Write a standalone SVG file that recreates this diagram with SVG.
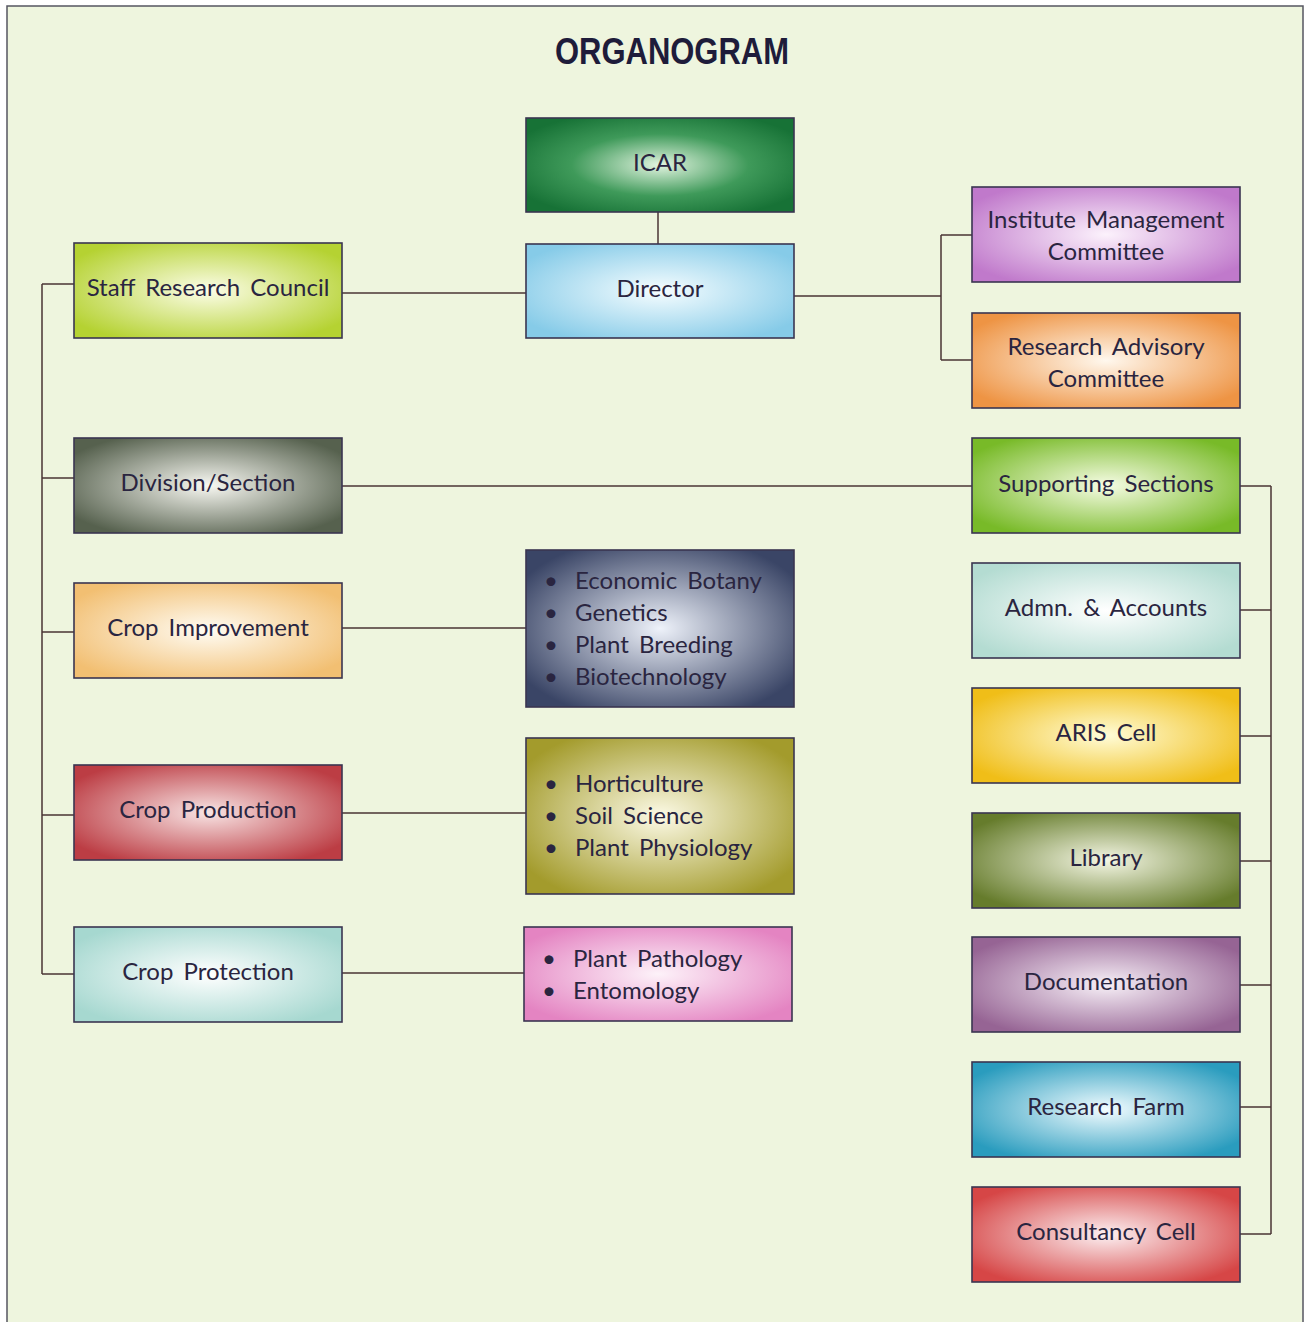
<svg xmlns="http://www.w3.org/2000/svg" width="1309" height="1322" viewBox="0 0 1309 1322">
<defs>
<style>
.box{stroke:#3a3550;stroke-width:1.6}
.t{font-family:"Lato","Liberation Sans",sans-serif;font-size:24px;fill:#2a2540;text-anchor:middle;word-spacing:4px}
.l{font-family:"Lato","Liberation Sans",sans-serif;font-size:24px;fill:#2a2540;word-spacing:4px}
.c{stroke:#4a3434;stroke-width:1.5;fill:none}
</style>
<radialGradient id="gICAR" cx="0.5" cy="0.5" r="0.6"><stop offset="0" stop-color="#e2f4e0"/><stop offset="0.55" stop-color="#3f9a5a"/><stop offset="1" stop-color="#177236"/></radialGradient>
<radialGradient id="gDir" cx="0.5" cy="0.5" r="0.6"><stop offset="0" stop-color="#f6fdff"/><stop offset="1" stop-color="#86cbe8"/></radialGradient>
<radialGradient id="gSRC" cx="0.5" cy="0.5" r="0.6"><stop offset="0" stop-color="#fcfde8"/><stop offset="1" stop-color="#b5d232"/></radialGradient>
<radialGradient id="gDiv" cx="0.5" cy="0.5" r="0.6"><stop offset="0" stop-color="#f8f8f2"/><stop offset="1" stop-color="#56614e"/></radialGradient>
<radialGradient id="gCI" cx="0.5" cy="0.5" r="0.6"><stop offset="0" stop-color="#fffcf4"/><stop offset="1" stop-color="#f2bf72"/></radialGradient>
<radialGradient id="gCP" cx="0.5" cy="0.5" r="0.6"><stop offset="0" stop-color="#f8e4e4"/><stop offset="1" stop-color="#bc3d44"/></radialGradient>
<radialGradient id="gCPr" cx="0.5" cy="0.5" r="0.6"><stop offset="0" stop-color="#ffffff"/><stop offset="1" stop-color="#a6d8d0"/></radialGradient>
<radialGradient id="gEB" cx="0.5" cy="0.5" r="0.6"><stop offset="0" stop-color="#eef2fa"/><stop offset="1" stop-color="#3a4566"/></radialGradient>
<radialGradient id="gHo" cx="0.5" cy="0.5" r="0.6"><stop offset="0" stop-color="#fcfae6"/><stop offset="1" stop-color="#a39b2c"/></radialGradient>
<radialGradient id="gPP" cx="0.5" cy="0.5" r="0.6"><stop offset="0" stop-color="#fdf2f9"/><stop offset="1" stop-color="#e484c2"/></radialGradient>
<radialGradient id="gIMC" cx="0.5" cy="0.5" r="0.6"><stop offset="0" stop-color="#fcf2fc"/><stop offset="1" stop-color="#c079cb"/></radialGradient>
<radialGradient id="gRAC" cx="0.5" cy="0.5" r="0.6"><stop offset="0" stop-color="#fff8ee"/><stop offset="1" stop-color="#ee9444"/></radialGradient>
<radialGradient id="gSS" cx="0.5" cy="0.5" r="0.6"><stop offset="0" stop-color="#f6fce4"/><stop offset="1" stop-color="#78ba28"/></radialGradient>
<radialGradient id="gAA" cx="0.5" cy="0.5" r="0.6"><stop offset="0" stop-color="#ffffff"/><stop offset="1" stop-color="#b4dcd2"/></radialGradient>
<radialGradient id="gAR" cx="0.5" cy="0.5" r="0.6"><stop offset="0" stop-color="#fffcd8"/><stop offset="1" stop-color="#f0be18"/></radialGradient>
<radialGradient id="gLib" cx="0.5" cy="0.5" r="0.6"><stop offset="0" stop-color="#f4f6e4"/><stop offset="1" stop-color="#667c2c"/></radialGradient>
<radialGradient id="gDoc" cx="0.5" cy="0.5" r="0.6"><stop offset="0" stop-color="#f7f0f7"/><stop offset="1" stop-color="#966494"/></radialGradient>
<radialGradient id="gRF" cx="0.5" cy="0.5" r="0.6"><stop offset="0" stop-color="#f2fcff"/><stop offset="1" stop-color="#2a9cbe"/></radialGradient>
<radialGradient id="gCC" cx="0.5" cy="0.5" r="0.6"><stop offset="0" stop-color="#fcf0f2"/><stop offset="1" stop-color="#d64646"/></radialGradient>
</defs>
<rect x="0" y="0" width="1309" height="1322" fill="#ffffff"/>
<rect x="7" y="6" width="1296" height="1330" fill="#eef5de" stroke="#555560" stroke-width="1.5"/>
<text x="672" y="64" font-family="'Liberation Sans',sans-serif" font-weight="bold" font-size="36" fill="#1e1c3a" text-anchor="middle" textLength="234" lengthAdjust="spacingAndGlyphs">ORGANOGRAM</text>

<g id="connectors">
<path class="c" d="M658 212V244"/>
<path class="c" d="M342 293H526"/>
<path class="c" d="M794 296H941M941 235V360M941 235H972M941 360H972"/>
<path class="c" d="M42 284V974M42 284H74M42 478H74M42 632H74M42 815H74M42 974H74"/>
<path class="c" d="M342 486H972"/>
<path class="c" d="M342 628H526M342 813H526M342 973H524"/>
<path class="c" d="M1271 486V1234M1240 486H1271M1240 610H1271M1240 736H1271M1240 861H1271M1240 985H1271M1240 1107H1271M1240 1234H1271"/>
</g>

<g id="icar"><rect class="box" x="526" y="118" width="268" height="94" fill="url(#gICAR)"/><text class="t" x="660" y="171">ICAR</text></g>
<g id="director"><rect class="box" x="526" y="244" width="268" height="94" fill="url(#gDir)"/><text class="t" x="660" y="297">Director</text></g>
<g id="staff-research-council"><rect class="box" x="74" y="243" width="268" height="95" fill="url(#gSRC)"/><text class="t" x="208" y="296">Staff Research Council</text></g>
<g id="division-section"><rect class="box" x="74" y="438" width="268" height="95" fill="url(#gDiv)"/><text class="t" x="208" y="491">Division/Section</text></g>
<g id="crop-improvement"><rect class="box" x="74" y="583" width="268" height="95" fill="url(#gCI)"/><text class="t" x="208" y="636">Crop Improvement</text></g>
<g id="crop-production"><rect class="box" x="74" y="765" width="268" height="95" fill="url(#gCP)"/><text class="t" x="208" y="818">Crop Production</text></g>
<g id="crop-protection"><rect class="box" x="74" y="927" width="268" height="95" fill="url(#gCPr)"/><text class="t" x="208" y="980">Crop Protection</text></g>

<g id="crop-improvement-list"><rect class="box" x="526" y="550" width="268" height="157" fill="url(#gEB)"/>
<text class="l" x="544" y="589">•</text><text class="l" x="575" y="589">Economic Botany</text>
<text class="l" x="544" y="621">•</text><text class="l" x="575" y="621">Genetics</text>
<text class="l" x="544" y="653">•</text><text class="l" x="575" y="653">Plant Breeding</text>
<text class="l" x="544" y="685">•</text><text class="l" x="575" y="685">Biotechnology</text></g>
<g id="crop-production-list"><rect class="box" x="526" y="738" width="268" height="156" fill="url(#gHo)"/>
<text class="l" x="544" y="792">•</text><text class="l" x="575" y="792">Horticulture</text>
<text class="l" x="544" y="824">•</text><text class="l" x="575" y="824">Soil Science</text>
<text class="l" x="544" y="856">•</text><text class="l" x="575" y="856">Plant Physiology</text></g>
<g id="crop-protection-list"><rect class="box" x="524" y="927" width="268" height="94" fill="url(#gPP)"/>
<text class="l" x="542" y="967">•</text><text class="l" x="573" y="967">Plant Pathology</text>
<text class="l" x="542" y="999">•</text><text class="l" x="573" y="999">Entomology</text></g>

<g id="imc"><rect class="box" x="972" y="187" width="268" height="95" fill="url(#gIMC)"/><text class="t" x="1106" y="228">Institute Management</text><text class="t" x="1106" y="260">Committee</text></g>
<g id="rac"><rect class="box" x="972" y="313" width="268" height="95" fill="url(#gRAC)"/><text class="t" x="1106" y="355">Research Advisory</text><text class="t" x="1106" y="387">Committee</text></g>
<g id="supporting-sections"><rect class="box" x="972" y="438" width="268" height="95" fill="url(#gSS)"/><text class="t" x="1106" y="492">Supporting Sections</text></g>
<g id="admn-accounts"><rect class="box" x="972" y="563" width="268" height="95" fill="url(#gAA)"/><text class="t" x="1106" y="616">Admn. &amp; Accounts</text></g>
<g id="aris-cell"><rect class="box" x="972" y="688" width="268" height="95" fill="url(#gAR)"/><text class="t" x="1106" y="741">ARIS Cell</text></g>
<g id="library"><rect class="box" x="972" y="813" width="268" height="95" fill="url(#gLib)"/><text class="t" x="1106" y="866">Library</text></g>
<g id="documentation"><rect class="box" x="972" y="937" width="268" height="95" fill="url(#gDoc)"/><text class="t" x="1106" y="990">Documentation</text></g>
<g id="research-farm"><rect class="box" x="972" y="1062" width="268" height="95" fill="url(#gRF)"/><text class="t" x="1106" y="1115">Research Farm</text></g>
<g id="consultancy-cell"><rect class="box" x="972" y="1187" width="268" height="95" fill="url(#gCC)"/><text class="t" x="1106" y="1240">Consultancy Cell</text></g>
</svg>
